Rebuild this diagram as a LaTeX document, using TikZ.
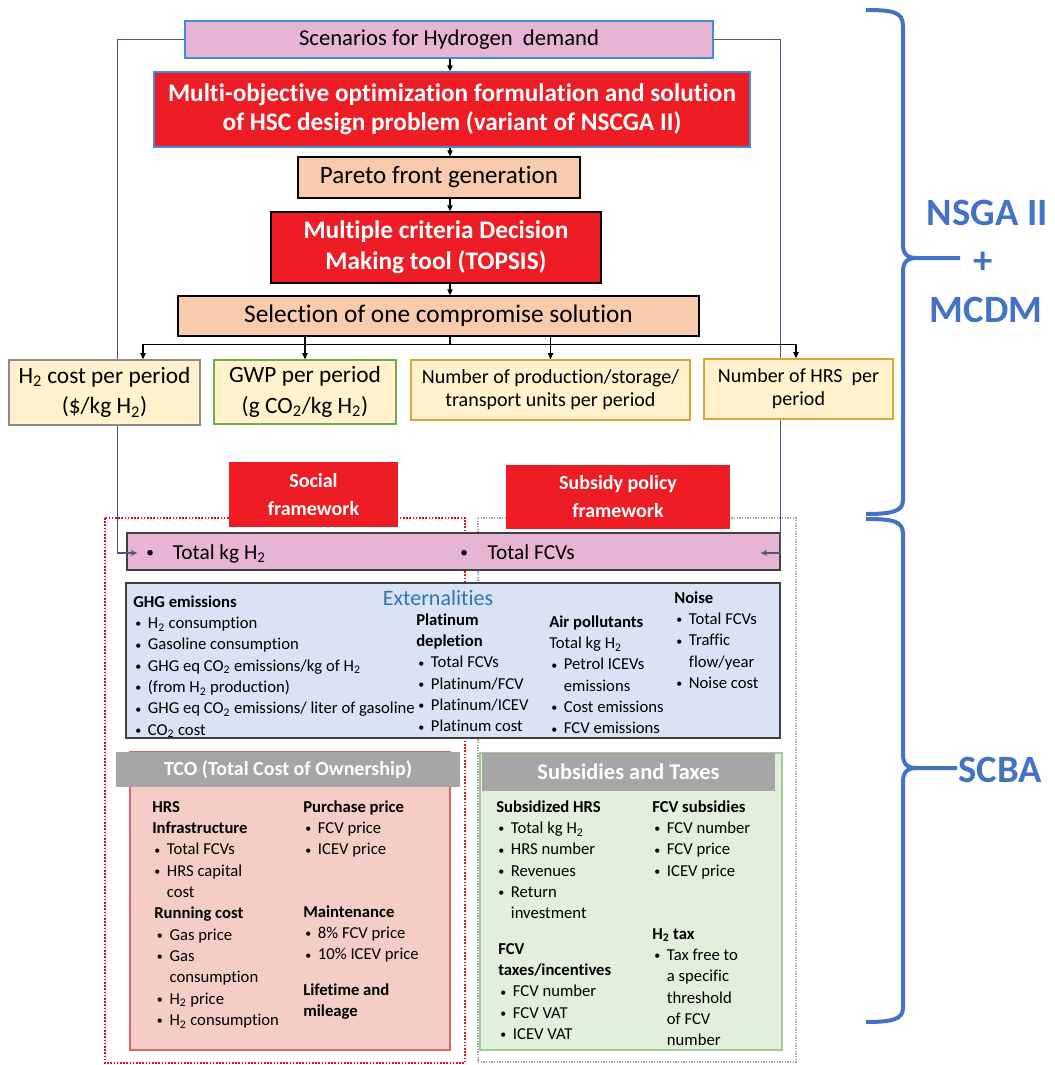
\documentclass[tikz,border=0pt]{standalone}
\usepackage{fontspec}
\usepackage{graphicx}
\setmainfont[Ligatures=NoCommon]{Carlito}
\usetikzlibrary{arrows.meta,calc}
\definecolor{pinkf}{HTML}{E6B5D3}
\definecolor{scenb}{HTML}{3D8FD9}
\definecolor{redf}{HTML}{EE1C25}
\definecolor{peach}{HTML}{F8CBAD}
\definecolor{ylw}{HTML}{FFF2CC}
\definecolor{grayb}{HTML}{8C8C8C}
\definecolor{greenb}{HTML}{70AD47}
\definecolor{goldb}{HTML}{D9A534}
\definecolor{fbline}{HTML}{4A5A78}
\definecolor{braceb}{HTML}{4472C4}
\definecolor{extf}{HTML}{DAE3F3}
\definecolor{extb}{HTML}{404040}
\definecolor{extt}{HTML}{2E75B6}
\definecolor{tcof}{HTML}{F4CDC6}
\definecolor{tcob}{HTML}{E06464}
\definecolor{subf}{HTML}{E2EFDA}
\definecolor{subb}{HTML}{A9C79C}
\definecolor{hdr}{HTML}{A6A6A6}
\definecolor{dotred}{HTML}{E01010}
\definecolor{dotgray}{HTML}{A0A0A0}
\newcommand{\ts}{\textsubscript{2}}
\newcommand{\dotb}{\raisebox{0.12ex}{\scalebox{0.72}{•}}}
\newcommand{\bu}{\makebox[11pt][l]{\hspace{1.5pt}\dotb}}
\newcommand{\ct}{\hspace*{11pt}}
\newcommand{\st}{\rule{0pt}{10pt}}
\tikzset{
  box/.style={draw, rectangle, inner sep=0pt, align=center},
  lst/.style={anchor=north west, inner sep=0pt, align=left, font=\fontsize{12.5pt}{16pt}\selectfont},
  arr/.style={-{Triangle[length=4.5pt,width=4pt]}, line width=0.8pt},
  fb/.style={fbline, line width=1pt, -{Stealth[length=5pt,width=4.5pt]}},
  brace/.style={braceb, line width=3pt},
  lbl/.style={text=braceb, inner sep=0pt, font=\fontsize{29pt}{32pt}\selectfont\bfseries},
  hdrbox/.style={rectangle, fill=hdr, inner sep=0pt, text=white, font=\fontsize{15pt}{18pt}\selectfont\bfseries},
  redbox/.style={box, draw=none, fill=redf, text=white, font=\fontsize{15pt}{21pt}\selectfont\bfseries},
}
\begin{document}
\begin{tikzpicture}[x=0.75pt,y=-0.75pt]
\useasboundingbox (0,0) rectangle (1055,1065);

% dotted frameworks
\draw[dotred, line width=1.6pt, dash pattern=on 1.2pt off 1.2pt] (105,518) rectangle (465,1063);
\draw[dotgray, line width=1.2pt, dash pattern=on 1pt off 1pt] (478,518) rectangle (796,1062);

% top chain
\node[box, draw=scenb, fill=pinkf, line width=1pt, minimum width=396pt, minimum height=27.75pt,
  font=\fontsize{17pt}{20pt}\selectfont] (scen) at (449,39.5) {Scenarios for Hydrogen\ \ demand};
\node[box, draw=scenb, fill=redf, line width=1pt, minimum width=447pt, minimum height=56.25pt, text=white,
  font=\fontsize{19pt}{22pt}\selectfont\bfseries] (multi) at (452,109.5)
  {Multi-objective optimization formulation and solution\\of HSC design problem (variant of NSCGA II)};
\node[box, fill=peach, line width=1.1pt, minimum width=211.5pt, minimum height=30.75pt,
  font=\fontsize{18.75pt}{22pt}\selectfont] (pareto) at (439,177.5) {Pareto front generation};
\node[box, fill=redf, line width=1.1pt, minimum width=247.5pt, minimum height=53.25pt, text=white,
  font=\fontsize{19pt}{23pt}\selectfont\bfseries] (mcdm) at (436,247.5) {Multiple criteria Decision\\Making tool (TOPSIS)};
\node[box, fill=peach, line width=1.1pt, minimum width=390.75pt, minimum height=30pt,
  font=\fontsize{19pt}{22pt}\selectfont] (sel) at (438.5,316) {Selection of one compromise solution};

\draw[arr] ($(scen.south)+(1,0)$) -- ($(multi.north)+(-2,0)$);
\draw[arr] ($(multi.south)+(-2,0)$) -- ($(pareto.north)+(11,0)$);
\draw[arr] ($(pareto.south)+(11,0)$) -- ($(mcdm.north)+(14,0)$);
\draw[arr] ($(mcdm.south)+(14,0)$) -- ($(sel.north)+(11.5,0)$);

% frameworks headers
\node[redbox, minimum width=126.75pt, minimum height=48.75pt] (soc) at (313.5,494.5) {Social\\framework};
\node[redbox, minimum width=168pt, minimum height=48pt] (subp) at (618,497) {Subsidy policy\\framework};

% total bar
\node[box, draw=extb, fill=pinkf, line width=1pt, minimum width=489.75pt, minimum height=27.75pt] (bar) at (453.5,551.5) {};
\node[anchor=base west, inner sep=0pt, font=\fontsize{16pt}{19pt}\selectfont] (tkg) at (146,559) {\makebox[20pt][l]{\dotb}Total kg H\ts};
\node[anchor=base west, inner sep=0pt, font=\fontsize{16pt}{19pt}\selectfont] (tfcv) at (460,559) {\makebox[20.5pt][l]{\dotb}Total FCVs};

% feedback lines
\draw[fb] (scen.west) -- ++(-67,0) |- ($(bar.west)+(11,1.5)$);
\draw[fb] (scen.east) -- ++(67,0) |- ($(bar.east)+(-20,1.5)$);

% result boxes
\node[box, draw=grayb, fill=ylw, line width=1.2pt, minimum width=143.25pt, minimum height=48.75pt,
  font=\fontsize{17.5pt}{23pt}\selectfont] (h2) at (104.5,392.5) {H\ts{} cost per period\\(\$/kg H\ts)};
\node[box, draw=greenb, fill=ylw, line width=1.2pt, minimum width=136.5pt, minimum height=48pt,
  font=\fontsize{17.5pt}{23pt}\selectfont] (gwp) at (305,392) {GWP per period\\(g CO\ts/kg H\ts)};
\node[box, draw=goldb, fill=ylw, line width=1.2pt, minimum width=209.25pt, minimum height=45pt,
  font=\fontsize{15pt}{17.25pt}\selectfont] (nprod) at (550.5,390) {Number of production/storage/\\transport units per period};
\node[box, draw=goldb, fill=ylw, line width=1.2pt, minimum width=141.75pt, minimum height=45pt,
  font=\fontsize{15pt}{17.25pt}\selectfont] (hrs) at (798.5,389) {Number\ of\ HRS\ \ per\\period};

\draw[arr] (sel.south -| gwp.north) -- (gwp.north);
\draw[arr] (sel.south -| nprod.north) -- (nprod.north);
\draw[arr] ($(sel.south)+(11.5,0)$) -- ++(0,8) -| ($(h2.north)+(38.5,0)$);
\draw[arr] ($(sel.south)+(11.5,0)$) -- ++(0,8) -| ($(hrs.north)+(-2.5,0)$);

% externalities
\node[draw=extb, fill=extf, line width=1pt, inner sep=0pt, minimum width=490.5pt, minimum height=116.25pt] (ext) at (453,660.5) {};
\node[inner sep=0pt, text=extt, font=\fontsize{16.5pt}{19pt}\selectfont] (extt) at (438,598) {Externalities};
\node[lst] (ghg) at (133,593.7) {\st\textbf{GHG emissions}\\
  \bu H\ts{} consumption\\
  \bu Gasoline consumption\\
  \bu GHG eq CO\ts{} emissions/kg of H\ts\\
  \bu (from H\ts{} production)\\
  \bu GHG eq CO\ts{} emissions/ liter of gasoline\\
  \bu CO\ts{} cost};
\node[lst] (plat) at (416,611.7) {\st\textbf{Platinum}\\ \textbf{depletion}\\ \bu Total FCVs\\ \bu Platinum/FCV\\ \bu Platinum/ICEV\\ \bu Platinum cost};
\node[lst] (air) at (549,613.7) {\st\textbf{Air pollutants}\\ Total kg H\ts\\ \bu Petrol ICEVs\\ \ct emissions\\ \bu Cost emissions\\ \bu FCV emissions};
\node[lst] (noise) at (674,589.7) {\st\textbf{Noise}\\ \bu Total FCVs\\ \bu Traffic\\ \ct flow/year\\ \bu Noise cost};

% TCO
\node[draw=tcob, fill=tcof, line width=1pt, inner sep=0pt, minimum width=240pt, minimum height=223.5pt] (tco) at (290,901) {};
\node[hdrbox, minimum width=258pt, minimum height=26.25pt] (tcoh) at (288,769.5) {TCO (Total Cost of Ownership)};
\node[lst] (hrsinf) at (152,798.7) {\st\textbf{HRS}\\ \textbf{Infrastructure}\\ \bu Total FCVs\\ \bu HRS capital\\ \ct cost\\
  \hspace*{1.5pt}\textbf{Running cost}\\ \hspace*{2pt}\bu Gas price\\ \hspace*{2pt}\bu Gas\\ \hspace*{2pt}\ct consumption\\
  \hspace*{2pt}\bu H\ts{} price\\ \hspace*{2pt}\bu H\ts{} consumption};
\node[lst] (purch) at (303,798.7) {\st\textbf{Purchase price}\\ \bu FCV price\\ \bu ICEV price};
\node[lst] (maint) at (303,903.7) {\st\textbf{Maintenance}\\ \bu 8\% FCV price\\ \bu 10\% ICEV price};
\node[lst] (life) at (303,981.7) {\st\textbf{Lifetime and}\\ \textbf{mileage}};

% Subsidies
\node[draw=subb, fill=subf, line width=1pt, inner sep=0pt, minimum width=226.5pt, minimum height=222.75pt] (subs) at (631,901.5) {};
\node[hdrbox, minimum width=219.75pt, minimum height=28.5pt, font=\fontsize{16.8pt}{19pt}\selectfont\bfseries] (subh) at (628.5,772) {Subsidies and Taxes};
\node[lst] (subhrs) at (496,798.7) {\st\textbf{Subsidized HRS}\\ \bu Total kg H\ts\\ \bu HRS number\\ \bu Revenues\\ \bu Return\\ \ct investment};
\node[lst] (fcvtax) at (498,940.7) {\st\textbf{FCV}\\ \textbf{taxes/incentives}\\ \bu FCV number\\ \bu FCV VAT\\ \bu ICEV VAT};
\node[lst] (fcvsub) at (652,798.7) {\st\textbf{FCV subsidies}\\ \bu FCV number\\ \bu FCV price\\ \bu ICEV price};
\node[lst] (h2tax) at (652,925.7) {\st\textbf{H\ts{} tax}\\ \bu Tax free to\\ \ct a specific\\ \ct threshold\\ \ct of FCV\\ \ct number};

% braces
\draw[brace] (866,10) .. controls (893,10) and (903,12) .. (903,26) -- (903,244) .. controls (903,254) and (907,258) .. (917,258) -- (960,258);
\draw[brace] (917,258) .. controls (907,258) and (903,262) .. (903,272) -- (903,500) .. controls (903,511) and (893,514) .. (866,514);
\draw[brace] (866,519) .. controls (893,519) and (903,521) .. (903,534) -- (903,754) .. controls (903,764) and (907,768) .. (917,768) -- (957,768);
\draw[brace] (917,768) .. controls (907,768) and (903,772) .. (903,782) -- (903,1008) .. controls (903,1019) and (893,1022) .. (866,1022);
\node[lbl] (nsga) at (987.5,212.5) {NSGA II};
\node[lbl] (plus) at (983,263) {+};
\node[lbl] (mcdml) at (986,310) {MCDM};
\node[lbl] (scba) at (1000,770) {SCBA};
\end{tikzpicture}
\end{document}
